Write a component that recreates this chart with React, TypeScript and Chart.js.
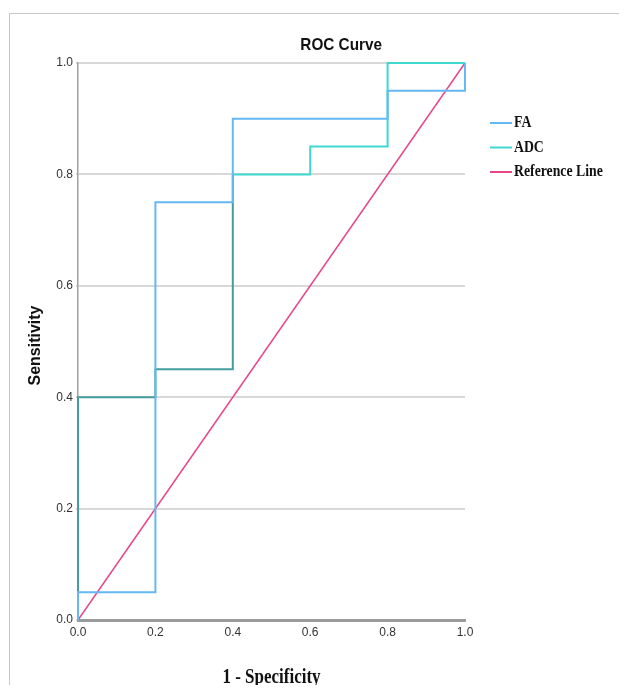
import React, { useEffect, useRef } from "react";
import { Chart, registerables } from "chart.js";

Chart.register(...registerables);

const chartTitle = "ROC Curve";
const xAxisTitle = "1 - Specificity";
const yAxisTitle = "Sensitivity";
const tickValues = [0, 0.2, 0.4, 0.6, 0.8, 1.0];

const seriesNames = ["FA", "ADC", "Reference Line"];
const faX = [0, 0, 0.2, 0.2, 0.4, 0.4, 0.8, 0.8, 1, 1];
const faY = [0, 0.05, 0.05, 0.75, 0.75, 0.9, 0.9, 0.95, 0.95, 1];
const adcX = [0, 0, 0.2, 0.2, 0.4, 0.4, 0.6, 0.6, 0.8, 0.8, 1];
const adcY = [0, 0.4, 0.4, 0.45, 0.45, 0.8, 0.8, 0.85, 0.85, 1, 1];
const refX = [0, 1];
const refY = [0, 1];

const FA_COLOR = "#66b8f2";
const ADC_COLOR = "#3fd8d0";
const ADC_DARK = "#469d9d";
const REF_COLOR = "#e8468c";

const toPts = (xs: number[], ys: number[]) => xs.map((x, i) => ({ x, y: ys[i] }));

const decorPlugin = {
  id: "decor",
  afterDraw(chart: any) {
    const { ctx, chartArea } = chart;
    const ca = chartArea;
    ctx.save();
    ctx.fillStyle = "#111";
    ctx.font = "bold 17px 'Liberation Sans', Arial, sans-serif";
    ctx.textAlign = "center";
    ctx.textBaseline = "middle";
    const tx = ca.left + 0.68 * (ca.right - ca.left);
    ctx.save();
    ctx.translate(tx, ca.top - 18);
    ctx.scale(0.9, 1);
    ctx.fillText(chartTitle, 0, 0);
    ctx.restore();
    ctx.save();
    ctx.translate(ca.left - 42, (ca.top + ca.bottom) / 2 + 4);
    ctx.rotate(-Math.PI / 2);
    ctx.font = "bold 16px 'Liberation Sans', Arial, sans-serif";
    ctx.fillText(yAxisTitle, 0, 0);
    ctx.restore();
    ctx.font = "bold 20px 'Liberation Serif', 'Times New Roman', serif";
    ctx.save();
    ctx.translate((ca.left + ca.right) / 2, ca.bottom + 58);
    ctx.scale(0.85, 1);
    ctx.fillText(xAxisTitle, 0, 0);
    ctx.restore();
    const colors = [FA_COLOR, ADC_COLOR, REF_COLOR];
    const lx = ca.right + 25;
    let ly = ca.top + 60;
    ctx.font = "bold 16px 'Liberation Serif', 'Times New Roman', serif";
    ctx.textAlign = "left";
    chart.data.datasets.forEach((ds: any, i: number) => {
      ctx.strokeStyle = colors[i];
      ctx.lineWidth = 2;
      ctx.beginPath();
      ctx.moveTo(lx, ly);
      ctx.lineTo(lx + 22, ly);
      ctx.stroke();
      ctx.fillStyle = "#111";
      ctx.save();
      ctx.translate(lx + 24, ly);
      ctx.scale(0.86, 1);
      ctx.fillText(ds.label, 0, 0);
      ctx.restore();
      ly += 24.5;
    });
    ctx.restore();
  },
};

export default function App() {
  const ref = useRef<HTMLCanvasElement | null>(null);
  useEffect(() => {
    if (!ref.current) return;
    const chart = new Chart(ref.current, {
      type: "scatter",
      data: {
        datasets: [
          {
            label: seriesNames[0],
            data: toPts(faX, faY),
            showLine: true,
            borderColor: FA_COLOR,
            borderWidth: 2,
            pointRadius: 0,
            tension: 0,
            clip: false,
          },
          {
            label: seriesNames[1],
            data: toPts(adcX, adcY),
            showLine: true,
            borderColor: ADC_COLOR,
            borderWidth: 2,
            pointRadius: 0,
            tension: 0,
            clip: false,
            segment: {
              borderColor: (c: any) => (c.p1DataIndex <= 5 ? ADC_DARK : ADC_COLOR),
            },
          },
          {
            label: seriesNames[2],
            data: toPts(refX, refY),
            showLine: true,
            borderColor: REF_COLOR,
            borderWidth: 1.5,
            pointRadius: 0,
            clip: false,
          },
        ],
      } as any,
      options: {
        animation: false,
        responsive: false,
        maintainAspectRatio: false,
        layout: { padding: { left: 40, right: 154, top: 55, bottom: 35 } },
        plugins: { legend: { display: false }, tooltip: { enabled: false }, title: { display: false } },
        scales: {
          x: {
            type: "linear",
            min: 0,
            max: 1,
            afterBuildTicks: (s: any) => {
              s.ticks = tickValues.map((v) => ({ value: v }));
            },
            afterFit: (s: any) => {
              s.height = 30;
            },
            ticks: {
              padding: 5,
              color: "#333",
              font: { family: "'Liberation Sans', Arial, sans-serif", size: 12 },
              callback: (v: any) => Number(v).toFixed(1),
            },
            grid: { display: false, drawTicks: false },
            border: { display: true, color: "#9a9a9a", width: 3 },
          },
          y: {
            type: "linear",
            min: 0,
            max: 1,
            afterBuildTicks: (s: any) => {
              s.ticks = tickValues.map((v) => ({ value: v }));
            },
            afterFit: (s: any) => {
              s.width = 30;
            },
            ticks: {
              padding: 3,
              color: "#333",
              font: { family: "'Liberation Sans', Arial, sans-serif", size: 12 },
              callback: (v: any) => Number(v).toFixed(1),
            },
            grid: { color: "#d8d8d8", lineWidth: 2, drawTicks: true, tickLength: 2 },
            border: { display: true, color: "#a0a0a0", width: 1.5 },
          },
        },
      },
      plugins: [decorPlugin],
    } as any);
    return () => chart.destroy();
  }, []);
  return (
    <div style={{ position: "relative", width: 611, height: 677 }}>
      <div
        style={{
          position: "absolute",
          left: 1,
          top: 5,
          right: 0,
          bottom: 0,
          borderTop: "1px solid #c8c8c8",
          borderLeft: "1px solid #c8c8c8",
        }}
      />
      <canvas ref={ref} width={611} height={677} style={{ position: "absolute", left: 0, top: 0 }} />
    </div>
  );
}
